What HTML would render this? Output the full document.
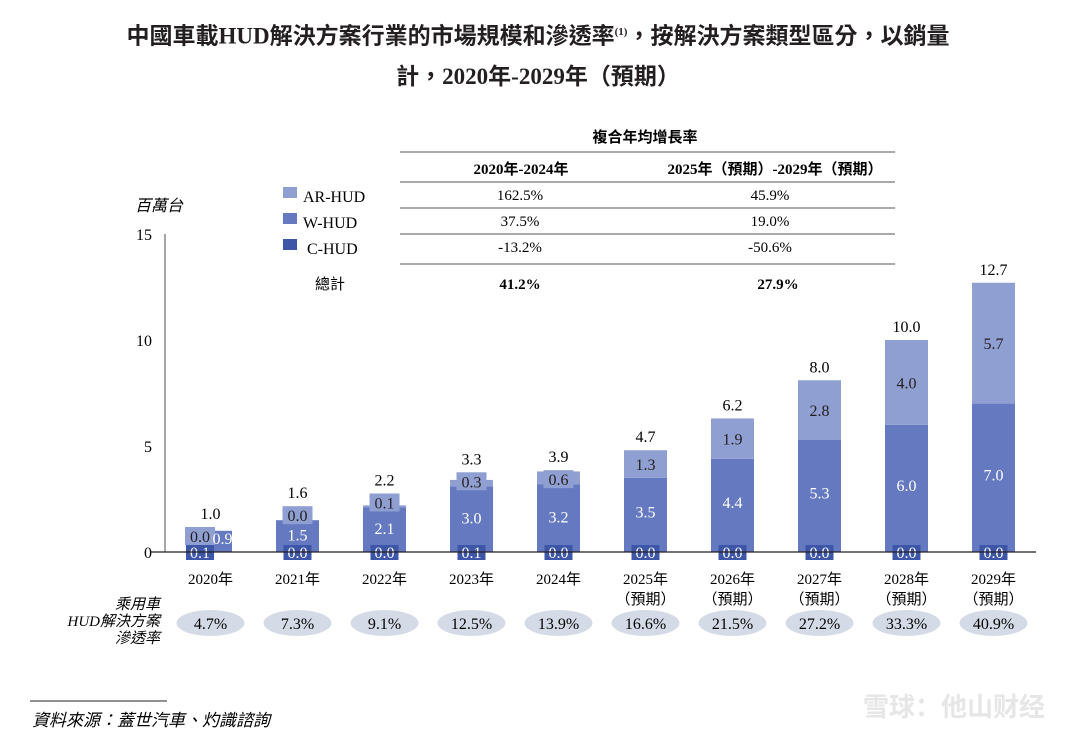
<!DOCTYPE html>
<html><head><meta charset="utf-8">
<style>
body{margin:0;background:#fff;width:1076px;height:738px;overflow:hidden;font-family:"Liberation Serif","Noto Serif CJK SC","Noto Sans CJK TC",serif;color:#231f20}
.abs{position:absolute}
</style></head>
<body>
<div class="abs" style="left:0;top:12px;width:1076px;text-align:center;font-family:'Liberation Serif','Noto Sans CJK TC',serif;font-weight:bold;font-size:23px;line-height:40px">中國車載HUD解決方案行業的市場規模和滲透率<sup style="font-size:11px">(1)</sup>，按解決方案類型區分，以銷量<br>計，2020年-2029年（預期）</div>
<svg id="c" class="abs" style="left:0;top:0" width="1076" height="738"></svg>
<script>
const years=["2020年","2021年","2022年","2023年","2024年","2025年","2026年","2027年","2028年","2029年"];
const forecast=[false,false,false,false,false,true,true,true,true,true];
const cHud=[0.1,0.0,0.0,0.1,0.0,0.0,0.0,0.0,0.0,0.0];
const wHud=[0.9,1.5,2.1,3.0,3.2,3.5,4.4,5.3,6.0,7.0];
const arHud=[0.0,0.0,0.1,0.3,0.6,1.3,1.9,2.8,4.0,5.7];
const totals=[1.0,1.6,2.2,3.3,3.9,4.7,6.2,8.0,10.0,12.7];
const penetration=[4.7,7.3,9.1,12.5,13.9,16.6,21.5,27.2,33.3,40.9];
const yTicks=[0,5,10,15];
const legendNames=["AR-HUD","W-HUD","C-HUD"];
const cagr1=["162.5%","37.5%","-13.2%"];
const cagr2=["45.9%","19.0%","-50.6%"];
const totalCagr=["41.2%","27.9%"];
const colors={ar:"#8f9fd2",w:"#6479c0",c:"#3d56a8"};
const svg=document.getElementById('c');
const NS="http://www.w3.org/2000/svg";
function y(v){return 552-v*21.2;}
function x(i){return 210.5+i*87;}
function el(tag,attrs,txt){const e=document.createElementNS(NS,tag);for(const k in attrs)e.setAttribute(k,attrs[k]);if(txt!==undefined)e.textContent=txt;svg.appendChild(e);return e;}
const F="'Liberation Serif','Noto Sans CJK TC',serif";
let a=el('line',{x1:165,y1:234,x2:165,y2:552,stroke:'#888','stroke-width':1.5});


yTicks.forEach(t=>{const e=el('text',{x:152,y:y(t)+6,'text-anchor':'end','font-size':16,'font-family':F},String(t));

});
let u=el('text',{x:135,y:211,'font-size':16,'font-style':'italic','font-family':F},'百萬台');


const bw=43;
years.forEach((yr,i)=>{
 const cx=x(i);
 const wTop=y(cHud[i]+wHud[i]), arTop=y(cHud[i]+wHud[i]+arHud[i]);
 let b=el('rect',{x:cx-bw/2,y:wTop,width:bw,height:552-wTop,fill:colors.w});
 
 
 let ar=el('rect',{x:cx-bw/2,y:arTop,width:bw,height:wTop-arTop,fill:colors.ar});
 
 
 const small=(wTop-arTop)<18;
 let boxTop=arTop, boxBot=wTop;
 let tight=false;
 if(small){
  boxBot=wTop+4; boxTop=boxBot-18;
  if(boxBot>528){tight=true;boxBot=545;boxTop=527;}
 }
 let bxX=tight?cx-bw/2-4:cx-15, bxW=tight?30:30;
 let labX=tight?bxX+15:cx;
 if(small){let bx=el('rect',{x:bxX,y:boxTop,width:bxW,height:boxBot-boxTop,fill:colors.ar});
  
  }
 let arMid=(boxTop+boxBot)/2;
 let t1=el('text',{x:labX,y:arMid+6,'text-anchor':'middle','font-size':16,fill:'#231f20','font-family':F},arHud[i].toFixed(1));
 
 
 let wX=cx, wMid=(boxBot+545)/2;
 if(tight){wX=cx+12;wMid=538;}
 let t2=el('text',{x:wX,y:wMid+6,'text-anchor':'middle','font-size':16,fill:'#fff','font-family':F},wHud[i].toFixed(1));
 
 
 let cX=tight?labX:cx;
 let cb=el('rect',{x:cX-14,y:545,width:28,height:15,fill:colors.c});
 
 
 let t3=el('text',{x:cX,y:558,'text-anchor':'middle','font-size':16,fill:'#fff','font-family':F},cHud[i].toFixed(1));
 
 
 let tt=el('text',{x:cx,y:Math.min(arTop,boxTop)-8,'text-anchor':'middle','font-size':16,'font-family':F},totals[i].toFixed(1));
 
 
 let yl=el('text',{x:cx,y:584,'text-anchor':'middle','font-size':15,'font-family':F},yr);
 
 
 if(forecast[i]){let f=el('text',{x:cx,y:604,'text-anchor':'middle','font-size':15,'font-family':F},'（預期）');
  
  }
 let ep=el('ellipse',{cx:cx,cy:623,rx:34,ry:13,fill:'#d5dbe6'});
 
 
 let pt=el('text',{x:cx,y:629,'text-anchor':'middle','font-size':16,'font-family':F},penetration[i].toFixed(1)+'%');
 
 
});
let base=el('line',{x1:150,y1:552,x2:1036,y2:552,stroke:'#231f20','stroke-width':1.2});


['乘用車','HUD解決方案','滲透率'].forEach((s,k)=>{const e=el('text',{x:160,y:609+k*17,'text-anchor':'end','font-size':15,'font-style':'italic','font-family':F},s);
 
 });
let th=el('text',{x:645,y:142,'text-anchor':'middle','font-size':15,'font-weight':'bold','font-family':F},'複合年均增長率');


[152,182,208,234,264].forEach(ly=>{const l=el('line',{x1:400,y1:ly,x2:895,y2:ly,stroke:'#555','stroke-width':1});
 
 });
let h1=el('text',{x:521,y:174,'text-anchor':'middle','font-size':15,'font-weight':'bold','font-family':F},'2020年-2024年');


let h2=el('text',{x:775,y:174,'text-anchor':'middle','font-size':15,'font-weight':'bold','font-family':F},'2025年（預期）-2029年（預期）');


const lc=[colors.ar,colors.w,colors.c];
legendNames.forEach((n,k)=>{const ry=197+k*26;
 let s=el('rect',{x:283,y:ry-10,width:14,height:11,fill:lc[k]});
 
 
 let t=el('text',{x:k==2?307:303,y:ry+5,'font-size':16,'font-family':F},n);
 
 
 let v1=el('text',{x:520,y:ry+3,'text-anchor':'middle','font-size':15,'font-family':F},cagr1[k]);
 
 
 let v2=el('text',{x:770,y:ry+3,'text-anchor':'middle','font-size':15,'font-family':F},cagr2[k]);
 
 
});
let tl=el('text',{x:315,y:289,'font-size':15,'font-family':F},'總計');


let tv1=el('text',{x:520,y:289,'text-anchor':'middle','font-size':15,'font-weight':'bold','font-family':F},totalCagr[0]);


let tv2=el('text',{x:778,y:289,'text-anchor':'middle','font-size':15,'font-weight':'bold','font-family':F},totalCagr[1]);


let sl=el('line',{x1:30,y1:701,x2:167,y2:701,stroke:'#231f20','stroke-width':1});


let src=el('text',{x:32,y:726,'font-size':17,'font-style':'italic','font-family':F},'資料來源：蓋世汽車、灼識諮詢');


let wm=el('text',{x:1045,y:716,'text-anchor':'end','font-size':26,'font-weight':'bold',fill:'#e6e6e6','font-family':"'Noto Sans CJK SC',sans-serif"},'雪球：他山财经');


</script>
</body></html>
